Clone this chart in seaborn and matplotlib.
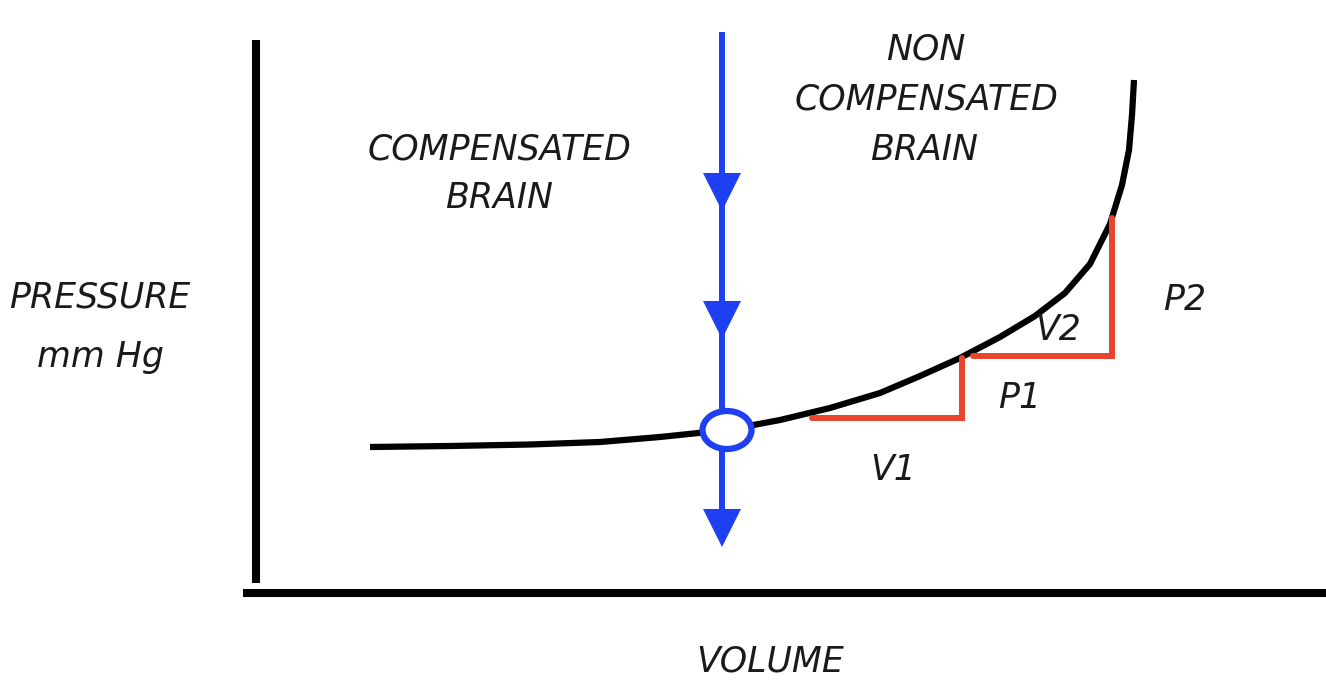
import matplotlib
matplotlib.use("Agg")
import matplotlib.pyplot as plt
from matplotlib.patches import Ellipse
import seaborn as sns

# pressure-volume curve (arbitrary units)
volume = [11.2, 19.2, 27.2, 34.2, 40.2, 46.9, 52.2, 57.2, 62.2, 66.2, 70.2,
          74.2, 77.7, 80.7, 83.2, 85.2, 86.4, 87.1, 87.4, 87.6]
pressure = [14.6, 14.7, 14.85, 15.1, 15.6, 16.3, 17.3, 18.5, 20.0, 21.7, 23.5,
            25.6, 27.7, 30.0, 32.9, 36.9, 40.8, 44.3, 47.8, 51.3]

# red slope triangles
v1_x = [55.4, 70.4, 70.4]
v1_y = [17.5, 17.5, 23.5]
v2_x = [71.5, 85.4, 85.4]
v2_y = [23.7, 23.7, 37.5]

# blue marker line
blue_x = 46.4
blue_top, blue_bottom = 56.1, 5.5
arrow_y = [40.1, 27.3, 6.5]
point_x, point_y = 46.9, 16.3

BLUE = "#1f3ff2"
RED = "#e8452c"

sns.set_style("white")
plt.rcParams["font.family"] = ["DejaVu Sans"]

fig = plt.figure(figsize=(13.26, 6.95), dpi=100)
ax = fig.add_axes([243 / 1326, 102 / 695, 1083 / 1326, 593 / 695])
ax.set_xlim(-1.5, 106.8)
ax.set_ylim(0, 59.3)

sns.lineplot(x=volume, y=pressure, ax=ax, color="black", lw=4.5,
             sort=False, solid_capstyle="butt", solid_joinstyle="round")
ax.plot(v1_x, v1_y, color=RED, lw=4.3, solid_joinstyle="miter")
ax.plot(v2_x, v2_y, color=RED, lw=4.3, solid_joinstyle="miter")

ax.plot([blue_x, blue_x], [blue_top, blue_bottom], color=BLUE, lw=4.3,
        solid_capstyle="butt")
ax.plot([blue_x] * len(arrow_y), arrow_y, ls="none", marker="v",
        ms=27, color=BLUE, mew=0)
ax.add_patch(Ellipse((point_x, point_y), 4.9, 3.8, facecolor="white",
                     edgecolor=BLUE, lw=4.5, zorder=5))

# axes lines
for s in ["top", "right"]:
    ax.spines[s].set_visible(False)
ax.spines["left"].set_position(("data", -0.2))
ax.spines["left"].set_bounds(1.0, 55.3)
ax.spines["bottom"].set_position(("data", 0))
for s in ["left", "bottom"]:
    ax.spines[s].set_linewidth(5.8)
    ax.spines[s].set_color("black")
    ax.spines[s].set_capstyle("butt")
ax.set_xticks([])
ax.set_yticks([])

txt = dict(fontsize=25, style="italic", color="#1a1a1a", ha="center",
           va="center", clip_on=False)
ax.text(-15.8, 29.6, "PRESSURE", **txt)
ax.text(-15.8, 23.6, "mm Hg", **txt)
ax.text(24.1, 44.3, "COMPENSATED", **txt)
ax.text(24.1, 39.5, "BRAIN", **txt)
ax.text(66.8, 54.3, "NON", **txt)
ax.text(66.8, 49.3, "COMPENSATED", **txt)
ax.text(66.6, 44.3, "BRAIN", **txt)
ax.text(80.0, 26.3, "V2", **txt)
ax.text(76.2, 19.5, "P1", **txt)
ax.text(63.5, 12.3, "V1", **txt)
ax.text(92.7, 29.3, "P2", **txt)
ax.text(51.2, -6.9, "VOLUME", **txt)

fig.savefig("out.png", dpi=100, facecolor="white")
